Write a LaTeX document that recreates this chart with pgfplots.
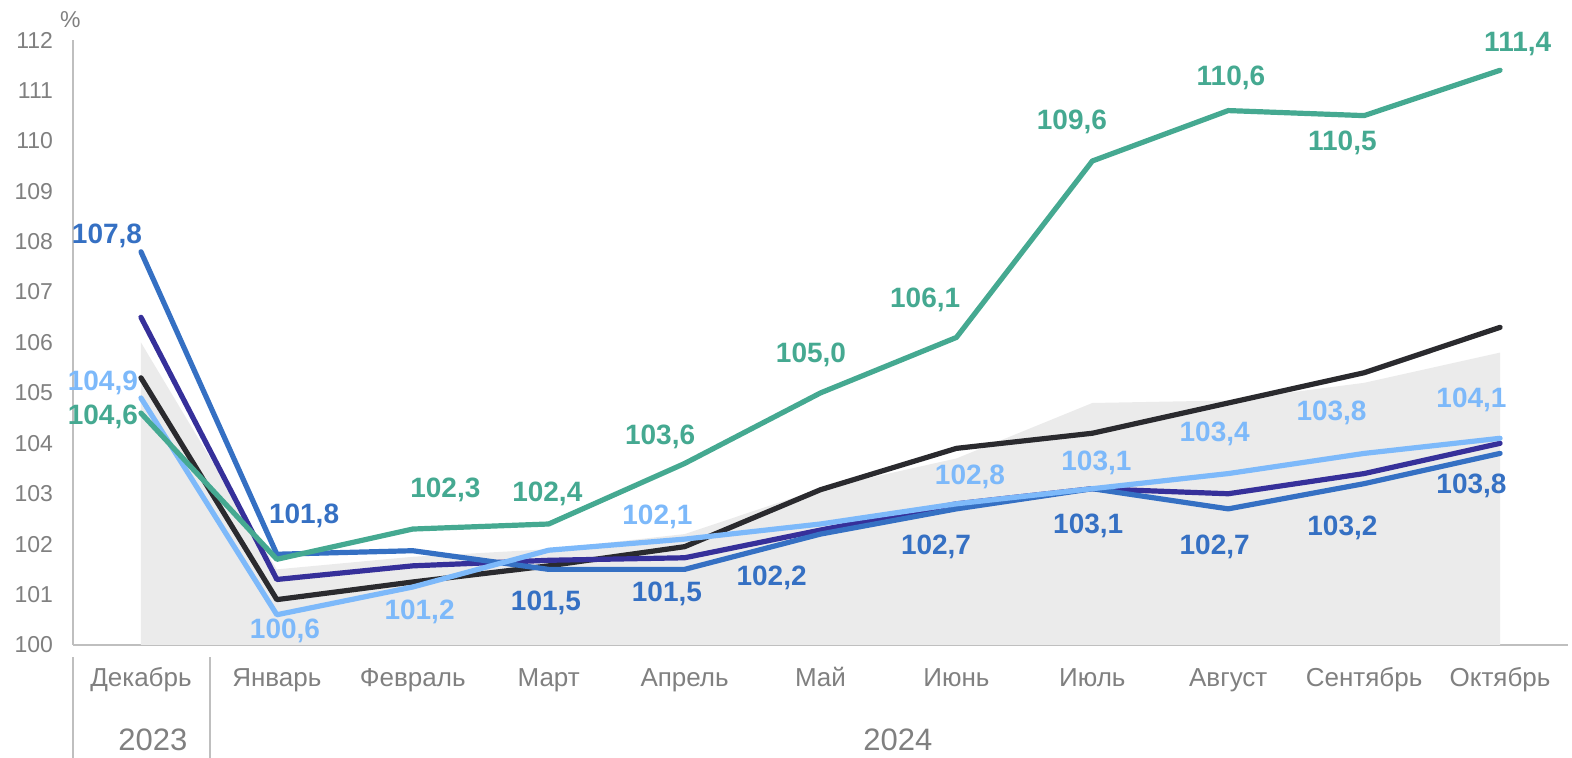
\documentclass[border=0pt]{standalone}
\usepackage{pgfplots}
\pgfplotsset{compat=1.18}
\usepackage{fontspec}
\setmainfont{Liberation Sans}
\definecolor{cblack}{HTML}{2A2A2E}
\definecolor{cpurple}{HTML}{36309A}
\definecolor{cblue}{HTML}{3570C3}
\definecolor{clight}{HTML}{7DB9FA}
\definecolor{cgreen}{HTML}{45A991}
\definecolor{carea}{HTML}{EBEBEB}
\definecolor{caxis}{HTML}{BFBFBF}
\definecolor{ctext}{HTML}{808080}
\begin{document}
\begin{tikzpicture}
\begin{axis}[
  scale only axis,
  width=747.5pt, height=302.5pt,
  xmin=-0.5, xmax=10.5, ymin=100, ymax=112,
  clip=false,
  axis x line*=bottom, axis y line*=left,
  axis line style={caxis, line width=1pt, -},
  xtick={0,...,10},
  xticklabels={Декабрь,Январь,Февраль,Март,Апрель,Май,Июнь,Июль,Август,Сентябрь,Октябрь},
  ytick={100,101,...,112},
  /pgf/number format/assume math mode=true,
  major tick length=0pt,
  tick style={draw=none},
  xticklabel style={font=\fontsize{13}{13}\selectfont, text=ctext, anchor=base, yshift=-21pt},
  yticklabel style={font=\fontsize{11.5}{11.5}\selectfont, text=ctext, xshift=-6.5pt},
]
\addplot[fill=carea, draw=none] coordinates {(0,100) (0,106.0) (1,101.5) (2,101.75) (3,101.9) (4,102.2) (5,103.1) (6,103.7) (7,104.8) (8,104.85) (9,105.2) (10,105.8) (10,100)} -- cycle;
\addplot[cblack, line width=2.6pt, line cap=round, line join=round] coordinates {(0,105.3) (1,100.9) (2,101.25) (3,101.57) (4,101.95) (5,103.08) (6,103.9) (7,104.2) (8,104.8) (9,105.4) (10,106.3)};
\addplot[cpurple, line width=2.6pt, line cap=round, line join=round] coordinates {(0,106.5) (1,101.3) (2,101.57) (3,101.68) (4,101.73) (5,102.28) (6,102.8) (7,103.1) (8,103.0) (9,103.4) (10,104.0)};
\addplot[cblue, line width=2.6pt, line cap=round, line join=round] coordinates {(0,107.8) (1,101.8) (2,101.87) (3,101.5) (4,101.5) (5,102.2) (6,102.7) (7,103.1) (8,102.7) (9,103.2) (10,103.8)};
\addplot[clight, line width=2.6pt, line cap=round, line join=round] coordinates {(0,104.9) (1,100.6) (2,101.15) (3,101.88) (4,102.1) (5,102.4) (6,102.8) (7,103.1) (8,103.4) (9,103.8) (10,104.1)};
\addplot[cgreen, line width=2.6pt, line cap=round, line join=round] coordinates {(0,104.6) (1,101.7) (2,102.3) (3,102.4) (4,103.6) (5,105.0) (6,106.1) (7,109.6) (8,110.6) (9,110.5) (10,111.4)};
% green labels
\begin{scope}[every node/.style={font=\bfseries\fontsize{14}{14}\selectfont, text=cgreen}]
\node at (axis cs:-0.28,104.52) {104,6};
\node at (axis cs:2.24,103.08) {102,3};
\node at (axis cs:2.99,103.0) {102,4};
\node at (axis cs:3.82,104.13) {103,6};
\node at (axis cs:4.93,105.75) {105,0};
\node at (axis cs:5.77,106.85) {106,1};
\node at (axis cs:6.85,110.38) {109,6};
\node at (axis cs:8.02,111.25) {110,6};
\node at (axis cs:8.84,109.96) {110,5};
\node at (axis cs:10.13,111.92) {111,4};
\end{scope}
\begin{scope}[every node/.style={font=\bfseries\fontsize{14}{14}\selectfont, text=cblue}]
\node at (axis cs:-0.25,108.12) {107,8};
\node at (axis cs:1.2,102.56) {101,8};
\node at (axis cs:2.98,100.83) {101,5};
\node at (axis cs:3.87,101.01) {101,5};
\node at (axis cs:4.64,101.33) {102,2};
\node at (axis cs:5.85,101.94) {102,7};
\node at (axis cs:6.97,102.36) {103,1};
\node at (axis cs:7.9,101.94) {102,7};
\node at (axis cs:8.84,102.32) {103,2};
\node at (axis cs:9.79,103.15) {103,8};
\end{scope}
\begin{scope}[every node/.style={font=\bfseries\fontsize{14}{14}\selectfont, text=clight}]
\node at (axis cs:-0.28,105.2) {104,9};
\node at (axis cs:1.06,100.28) {100,6};
\node at (axis cs:2.05,100.65) {101,2};
\node at (axis cs:3.8,102.54) {102,1};
\node at (axis cs:6.1,103.33) {102,8};
\node at (axis cs:7.03,103.61) {103,1};
\node at (axis cs:7.9,104.19) {103,4};
\node at (axis cs:8.76,104.6) {103,8};
\node at (axis cs:9.79,104.86) {104,1};
\end{scope}
% category separators and years
\draw[caxis, line width=1pt] (axis cs:-0.5,99.76) -- (axis cs:-0.5,97.6);
\draw[caxis, line width=1pt] (axis cs:0.508,99.76) -- (axis cs:0.508,97.6);
\node[text=ctext, font=\fontsize{15.5}{15.5}\selectfont] at (axis cs:0.088,98.12) {2023};
\node[text=ctext, font=\fontsize{15.5}{15.5}\selectfont] at (axis cs:5.57,98.12) {2024};
\node[text=ctext, font=\fontsize{11.5}{11.5}\selectfont] at (axis cs:-0.52,112.4) {\%};
\end{axis}
\pgfresetboundingbox
\path (-36.5pt,-56.5pt) rectangle (749.5pt,322.5pt);
\end{tikzpicture}
\end{document}
